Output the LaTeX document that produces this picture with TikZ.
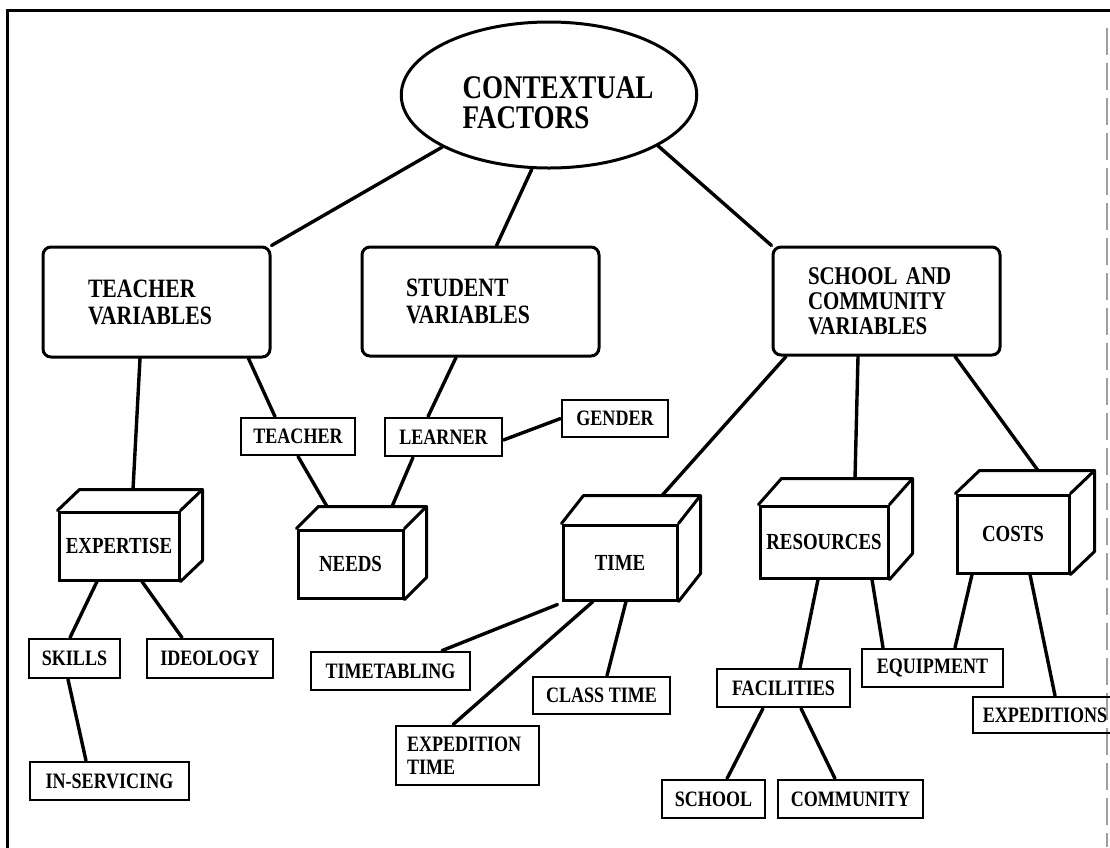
\documentclass[tikz,border=0pt]{standalone}
\usepackage{fontspec}
\setmainfont{Liberation Serif}[FakeStretch=0.82]
\usetikzlibrary{shapes.geometric}
\tikzset{
  conn/.style={line width=3.4pt, line cap=round},
  varbox/.style={draw, line width=3pt, rounded corners=8pt, align=left, inner ysep=0pt, font=\fontsize{26.5}{27}\selectfont\bfseries},
  smallbox/.style={draw, line width=2.8pt, inner sep=0pt, font=\fontsize{22}{23}\selectfont\bfseries},
  cubefront/.style={draw, line width=3pt, inner sep=0pt, font=\fontsize{23}{24}\selectfont\bfseries},
  cubeline/.style={line width=3pt, line join=round, line cap=round},
  framel/.style={line width=3pt},
}
\newcommand\cubefaces[3]{%
  \draw[cubeline] (#1.north west) -- ++(#2,-#3) -- ([shift={(#2,-#3)}]#1.north east) -- ([shift={(#2,-#3)}]#1.south east) -- (#1.south east);
  \draw[cubeline] ([shift={(#2,-#3)}]#1.north east) -- (#1.north east);}
\begin{document}
\begin{tikzpicture}[x=1pt, y=-1pt]
\useasboundingbox (0,0) rectangle (1110,847);
% frame
\draw[framel] (6,10) -- (1112,10);
\draw[framel] (7,10) -- (7,850);
\draw[gray!75, line width=1.3pt, dash pattern=on 27pt off 8pt] (1107,28) -- (1107,847);

% top ellipse
\node[draw, ellipse, line width=3pt, minimum width=262pt, minimum height=146pt, inner sep=0pt,
      font=\fontsize{33}{29}\selectfont\bfseries] (ctx) at (549,95)
  {\hspace*{18pt}\raisebox{-18pt}[0pt][0pt]{\begin{tabular}{@{}l@{}}CONTEXTUAL\\FACTORS\end{tabular}}};

% variable boxes
\node[varbox, inner xsep=45pt, text width=137pt, minimum height=110pt] (tv) at (156.5,302) {TEACHER\\VARIABLES};
\node[varbox, inner xsep=44pt, text width=149pt, minimum height=109pt] (sv) at (480.5,301.5) {STUDENT\\VARIABLES};
\node[varbox, inner xsep=35pt, text width=157pt, minimum height=108pt, font=\fontsize{25.5}{25}\selectfont\bfseries] (sc) at (886.5,301) {\mbox{SCHOOL AND}\\COMMUNITY\\VARIABLES};

% small boxes
\node[smallbox, minimum width=114pt, minimum height=37pt] (tch) at (298,436.5) {TEACHER};
\node[smallbox, minimum width=117pt, minimum height=38pt] (lrn) at (443.5,437) {LEARNER};
\node[smallbox, minimum width=106pt, minimum height=37pt] (gen) at (615,418.5) {GENDER};
\node[smallbox, minimum width=91pt, minimum height=39pt] (skl) at (74.5,658.5) {SKILLS};
\node[smallbox, minimum width=126pt, minimum height=39pt] (ide) at (210,658.5) {IDEOLOGY};
\node[smallbox, minimum width=159pt, minimum height=38pt] (ins) at (109.5,781) {IN-SERVICING};
\node[smallbox, minimum width=159pt, minimum height=38pt] (ttb) at (390.5,671) {TIMETABLING};
\node[smallbox, align=left, inner xsep=11pt, text width=121pt, minimum height=59pt] (ext) at (467.5,755.5) {EXPEDITION\\TIME};
\node[smallbox, minimum width=137pt, minimum height=37pt] (cls) at (601.5,695.5) {CLASS TIME};
\node[smallbox, minimum width=133pt, minimum height=38pt] (fac) at (783.5,688) {FACILITIES};
\node[smallbox, minimum width=103pt, minimum height=38pt] (sch) at (713.5,799) {SCHOOL};
\node[smallbox, minimum width=145pt, minimum height=38pt] (com) at (850.5,799) {COMMUNITY};
\node[smallbox, minimum width=141pt, minimum height=38pt] (eqp) at (932.5,668) {EQUIPMENT};
\node[smallbox, minimum width=144pt, minimum height=36pt] (exd) at (1045,715) {EXPEDITIONS};

% cubes
\node[cubefront, minimum width=120pt, minimum height=68pt] (exp) at (119,546) {EXPERTISE};
\cubefaces{exp}{22}{21}
\node[cubefront, minimum width=105pt, minimum height=68pt] (nds) at (350.5,564) {NEEDS};
\cubefaces{nds}{22}{22}
\node[cubefront, minimum width=114pt, minimum height=75pt] (tim) at (620,562.5) {TIME};
\cubefaces{tim}{22}{28}
\node[cubefront, minimum width=128pt, minimum height=72pt] (res) at (824,542) {RESOURCES};
\cubefaces{res}{23}{26}
\node[cubefront, minimum width=112pt, minimum height=78pt] (cst) at (1013,534) {COSTS};
\cubefaces{cst}{24}{23}

% connectors
\draw[conn] (ctx.206) -- (tv.north east);
\draw[conn] (ctx.257) -- (sv.74);
\draw[conn] (ctx.335) -- (sc.north west);

\draw[conn] ([xshift=-16.5pt]tv.south) -- ([shift={(14,-21)}]exp.north);
\draw[conn] ([xshift=-23pt]tv.south east) -- ([xshift=-23pt]tch.north);
\draw[conn] ([xshift=-24.5pt]sv.south) -- ([xshift=-15.5pt]lrn.north);
\draw[conn] ([yshift=-3pt]lrn.east) -- (gen.west);
\draw[conn] (tch.south) -- ([shift={(-23.5,-22)}]nds.north);
\draw[conn] ([xshift=-30.5pt]lrn.south) -- ([shift={(41.5,-22)}]nds.north);

\draw[conn] ([xshift=-22pt]exp.south) -- ([xshift=-4.5pt]skl.north);
\draw[conn] ([xshift=23pt]exp.south) -- ([xshift=-28pt]ide.north);
\draw[conn] ([xshift=-6.5pt]skl.south) -- ([xshift=-23.5pt]ins.north);

\draw[conn] ([xshift=-100.5pt]sc.south) -- ([shift={(42,-28)}]tim.north);
\draw[conn] ([xshift=-28.5pt]sc.south) -- ([shift={(31,-26)}]res.north);
\draw[conn] ([xshift=68.5pt]sc.south) -- ([shift={(25,-23)}]cst.north);

\draw[conn] ([shift={(-4,3)}]tim.south west) -- ([xshift=51.5pt]ttb.north);
\draw[conn] ([xshift=-27pt]tim.south) -- ([xshift=-14.5pt]ext.north);
\draw[conn] ([xshift=6pt]tim.south) -- ([xshift=5.5pt]cls.north);

\draw[conn] ([xshift=-6pt]res.south) -- ([xshift=16.5pt]fac.north);
\draw[conn] ([xshift=48pt]res.south) -- ([xshift=-49.5pt]eqp.north);
\draw[conn] ([xshift=-41pt]cst.south) -- ([xshift=22.5pt]eqp.north);
\draw[conn] ([xshift=17pt]cst.south) -- ([xshift=10pt]exd.north);

\draw[conn] ([xshift=-20.5pt]fac.south) -- ([xshift=13.5pt]sch.north);
\draw[conn] ([xshift=17.5pt]fac.south) -- ([xshift=-15.5pt]com.north);
\end{tikzpicture}
\end{document}
